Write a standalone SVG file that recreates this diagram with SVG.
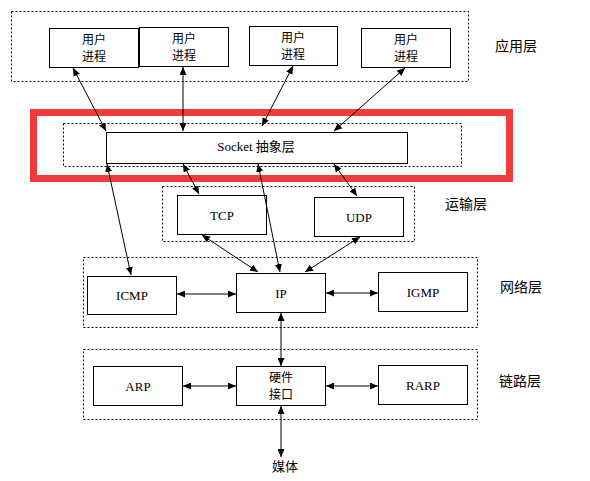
<svg xmlns="http://www.w3.org/2000/svg" width="590" height="481" viewBox="0 0 590 481">
<style>
.zone{fill:none;stroke:#000;stroke-width:1;stroke-dasharray:2,2}
.box{fill:#fff;stroke:#000;stroke-width:1}
.lat{font-family:"Liberation Serif","Noto Sans CJK SC",serif;font-size:13px;fill:#000;text-anchor:middle}
.cjk{font-family:"Noto Sans CJK SC",sans-serif;font-size:13px;fill:#000;text-anchor:middle}
.cjk2{font-family:"Noto Sans CJK SC",sans-serif;font-size:12px;fill:#000;text-anchor:middle}
.lbl{font-family:"Noto Sans CJK SC",sans-serif;font-size:14px;fill:#000}
.c line{stroke:#000;stroke-width:1;marker-start:url(#ah);marker-end:url(#ah)}
</style>
<defs>
<marker id="ah" viewBox="0 0 8 7" refX="8" refY="3.5" markerWidth="8" markerHeight="7" markerUnits="userSpaceOnUse" orient="auto-start-reverse">
<path d="M0,0 L8,3.5 L0,7 z" fill="#000"/>
</marker>
</defs>
<rect width="590" height="481" fill="#fff"/>
<g id="zones">
<rect class="zone" x="11.5" y="11.5" width="457" height="70"/>
<rect class="zone" x="63.5" y="123.5" width="398" height="43"/>
<rect class="zone" x="162.5" y="186.5" width="252" height="55"/>
<rect class="zone" x="83.5" y="257.5" width="394" height="70"/>
<rect class="zone" x="83.5" y="349.5" width="394" height="70"/>
</g>
<g id="highlight">
<rect x="33.5" y="112.5" width="476" height="66" fill="none" stroke="#f23c3c" stroke-width="7"/>
</g>
<g id="labels">
<text class="lbl" x="495" y="51">应用层</text>
<text class="lbl" x="445" y="209">运输层</text>
<text class="lbl" x="500" y="292">网络层</text>
<text class="lbl" x="499" y="386">链路层</text>
</g>
<g id="proc1"><rect class="box" x="49.5" y="28.5" width="89" height="39"/><text class="cjk2" x="94" y="43.5">用户<tspan x="94" dy="17.5">进程</tspan></text></g>
<g id="proc2"><rect class="box" x="139.5" y="27.5" width="89" height="39"/><text class="cjk2" x="184" y="42.5">用户<tspan x="184" dy="17.5">进程</tspan></text></g>
<g id="proc3"><rect class="box" x="249.5" y="26.5" width="88" height="39"/><text class="cjk2" x="293" y="41.5">用户<tspan x="293" dy="17.5">进程</tspan></text></g>
<g id="proc4"><rect class="box" x="361.5" y="28.5" width="89" height="39"/><text class="cjk2" x="406" y="43.5">用户<tspan x="406" dy="17.5">进程</tspan></text></g>
<g id="socket"><rect class="box" x="106.5" y="132.5" width="301" height="31"/><text class="lat" x="256" y="151">Socket <tspan style="font-family:'Noto Sans CJK SC',sans-serif">抽象层</tspan></text></g>
<g id="tcp"><rect class="box" x="177.5" y="195.5" width="89" height="39"/><text class="lat" x="222" y="220">TCP</text></g>
<g id="udp"><rect class="box" x="314.5" y="197.5" width="89" height="39"/><text class="lat" x="359" y="222">UDP</text></g>
<g id="icmp"><rect class="box" x="87.5" y="276.5" width="89" height="38"/><text class="lat" x="132" y="300">ICMP</text></g>
<g id="ip"><rect class="box" x="236.5" y="273.5" width="89" height="39"/><text class="lat" x="281" y="298">IP</text></g>
<g id="igmp"><rect class="box" x="378.5" y="272.5" width="89" height="39"/><text class="lat" x="423" y="297">IGMP</text></g>
<g id="arp"><rect class="box" x="93.5" y="366.5" width="89" height="39"/><text class="lat" x="138" y="391">ARP</text></g>
<g id="hw"><rect class="box" x="236.5" y="366.5" width="89" height="39"/><text class="cjk2" x="281" y="381.5">硬件<tspan x="281" dy="17.5">接口</tspan></text></g>
<g id="rarp"><rect class="box" x="378.5" y="365.5" width="89" height="39"/><text class="lat" x="423" y="390">RARP</text></g>
<g id="media"><text class="cjk" x="285" y="471">媒体</text></g>
<g id="connectors" class="c">
<line x1="73" y1="68" x2="106" y2="131"/>
<line x1="183" y1="67" x2="183" y2="131"/>
<line x1="293" y1="66" x2="262" y2="126"/>
<line x1="405" y1="68" x2="334" y2="131"/>
<line x1="107" y1="164" x2="131" y2="275"/>
<line x1="183" y1="164" x2="199" y2="194"/>
<line x1="258" y1="164" x2="280" y2="272"/>
<line x1="334" y1="164" x2="357" y2="196"/>
<line x1="202" y1="235" x2="258" y2="272"/>
<line x1="360" y1="237" x2="305" y2="272"/>
<line x1="177" y1="294" x2="236" y2="294"/>
<line x1="326" y1="293" x2="378" y2="293"/>
<line x1="281" y1="313" x2="281" y2="366"/>
<line x1="183" y1="386" x2="236" y2="386"/>
<line x1="326" y1="386" x2="378" y2="386"/>
<line x1="281" y1="406" x2="281" y2="457"/>
</g>
</svg>
